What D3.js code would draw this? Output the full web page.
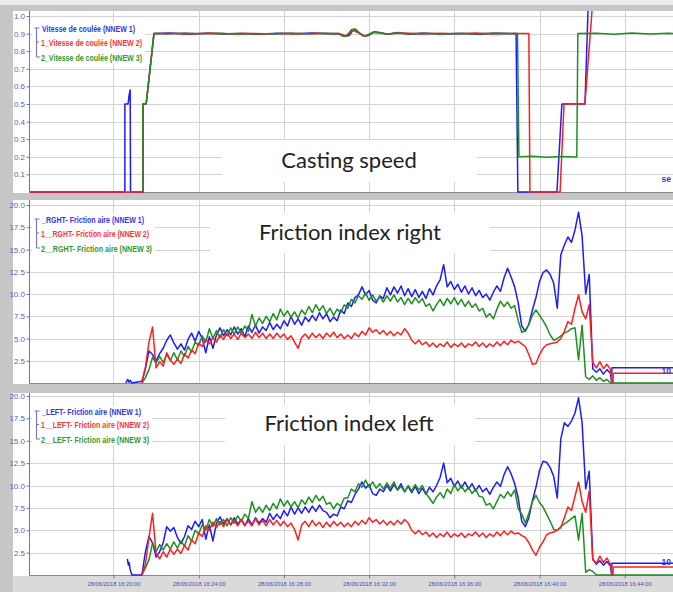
<!DOCTYPE html>
<html>
<head>
<meta charset="utf-8">
<script src="https://cdn.jsdelivr.net/npm/d3@7"></script>
<style>
  html, body { margin: 0; padding: 0; background: #c6c6c6; }
  svg { display: block; }
</style>
</head>
<body>
<svg id="chart" width="673" height="592"></svg>
<script>
// ---------------- data ----------------
const dayPrefix = "2018-06-28 ";

const speedNames = ["Vitesse de coulée (NNEW 1)", "1_Vitesse de coulée (NNEW 2)", "2_Vitesse de coulée (NNEW 3)"];
const rightNames = ["_RGHT- Friction aire (NNEW 1)", "1__RGHT- Friction aire (NNEW 2)", "2__RGHT- Friction aire (NNEW 3)"];
const leftNames  = ["_LEFT- Friction aire (NNEW 1)", "1__LEFT- Friction aire (NNEW 2)", "2__LEFT- Friction aire (NNEW 3)"];
const panelTitles = ["Casting speed", "Friction index right", "Friction index left"];

const speedTicks = [0.1, 0.2, 0.3, 0.4, 0.5, 0.6, 0.7, 0.8, 0.9, 1.0];
const frictionTicks = [2.5, 5.0, 7.5, 10.0, 12.5, 15.0, 17.5, 20.0];
const timeDomain = ["16:16:02", "16:46:16"];
const tickEveryMinutes = 4;

// casting speed: [time, value]
const speedBlue = [
  ["16:16:02",0],["16:20:32",0],["16:20:32",0.5],["16:20:41",0.5],["16:20:44",0.55],["16:20:47",0.58],["16:20:48",0],
  ["16:21:23",0],["16:21:23",0.5],["16:21:32",0.5],["16:21:54",0.9],
  ["16:22:40",0.903],["16:23:30",0.897],["16:24:20",0.902],["16:25:10",0.898],["16:26:00",0.901],["16:26:50",0.896],
  ["16:27:40",0.902],["16:28:30",0.899],["16:29:20",0.903],["16:30:10",0.899],["16:30:35",0.9],
  ["16:30:45",0.893],["16:30:55",0.885],["16:31:05",0.891],["16:31:14",0.918],["16:31:22",0.924],["16:31:32",0.905],
  ["16:31:45",0.886],["16:31:58",0.889],["16:32:15",0.91],["16:32:35",0.903],["16:32:55",0.896],["16:33:20",0.906],["16:33:50",0.897],
  ["16:34:40",0.902],["16:35:30",0.898],["16:36:20",0.901],["16:37:10",0.897],["16:38:00",0.902],["16:38:54",0.9],["16:38:59",0],
  ["16:40:49",0],["16:41:03",0.5],["16:42:08",0.5],["16:42:21",1.3]
];
const speedRed = [
  ["16:16:02",0],["16:21:23",0],["16:21:23",0.5],["16:21:32",0.5],["16:21:54",0.9],
  ["16:22:50",0.901],["16:23:40",0.898],["16:24:30",0.903],["16:25:20",0.899],["16:26:10",0.902],["16:27:00",0.897],
  ["16:27:50",0.901],["16:28:40",0.898],["16:29:30",0.902],["16:30:20",0.899],["16:30:40",0.896],["16:30:55",0.887],
  ["16:31:12",0.92],["16:31:30",0.904],["16:31:48",0.887],["16:32:12",0.908],["16:32:50",0.898],["16:33:40",0.903],
  ["16:34:30",0.898],["16:35:20",0.902],["16:36:10",0.899],["16:37:00",0.903],["16:37:50",0.898],["16:38:40",0.901],
  ["16:39:30",0.9],["16:39:33",0],
  ["16:40:58",0],["16:41:09",0.5],["16:42:08",0.5],["16:42:38",1.3]
];
const speedGreen = [
  ["16:21:23",0],["16:21:23",0.5],["16:21:32",0.5],["16:21:54",0.9],
  ["16:22:30",0.898],["16:23:20",0.903],["16:24:10",0.899],["16:25:00",0.902],["16:25:50",0.897],["16:26:40",0.901],
  ["16:27:30",0.898],["16:28:20",0.903],["16:29:10",0.898],["16:30:00",0.902],["16:30:35",0.9],
  ["16:30:42",0.888],["16:30:52",0.884],["16:31:02",0.895],["16:31:10",0.922],["16:31:18",0.927],["16:31:28",0.91],
  ["16:31:40",0.889],["16:31:52",0.886],["16:32:10",0.907],["16:32:30",0.906],["16:32:50",0.897],["16:33:15",0.905],["16:33:45",0.898],
  ["16:34:30",0.903],["16:35:20",0.897],["16:36:10",0.902],["16:37:00",0.898],["16:37:50",0.903],["16:38:40",0.899],
  ["16:38:58",0.9],["16:39:02",0.2],
  ["16:39:40",0.203],["16:40:20",0.197],["16:41:00",0.202],["16:41:45",0.199],["16:41:48",0.9],
  ["16:42:40",0.902],["16:43:30",0.897],["16:44:20",0.903],["16:45:10",0.898],["16:46:00",0.902],["16:47:00",0.899]
];

// friction records: one sample every 10 s starting at 16:21:20
const frictionStart = "16:21:20";
const frictionStepSeconds = 10;

const rightBlue = [
  0.2,1.6,3.6,3.2,2.5,3.3,3.9,4.8,5.4,4.5,
  3.8,4.4,3.7,4.9,5.6,4.7,5.8,5.0,3.4,5.2,
  3.9,5.4,6.2,5.3,6.0,5.4,6.3,5.5,6.1,5.2,
  6.4,5.7,6.5,5.6,6.3,5.9,6.8,6.0,6.6,6.1,
  7.0,6.4,7.5,6.6,7.2,6.5,7.4,6.9,7.6,7.0,
  7.9,7.2,7.8,6.9,7.4,7.0,8.2,7.8,9.0,8.6,
  9.6,9.9,10.8,9.9,10.4,9.3,9.0,9.8,9.5,10.7,
  9.9,10.8,10.1,10.9,9.8,10.6,9.7,10.5,9.6,10.3,
  9.5,10.6,9.9,10.9,11.6,13.3,10.8,11.4,10.5,11.1,
  10.2,10.9,10.0,10.7,9.8,10.4,9.6,10.0,9.3,10.2,
  10.9,10.3,11.8,12.9,11.9,10.8,9.0,6.4,5.8,6.6,
  8.2,9.6,11.4,12.4,12.7,12.2,11.2,8.4,14.4,15.5,
  16.4,15.8,17.2,19.2,16.5,10.0,12.2,1.6,1.2,1.6,
  1.0,1.5,1.1
];
const rightRed = [
  0.0,1.8,4.6,6.3,1.7,2.4,1.9,3.4,2.6,2.1,
  2.7,2.2,3.3,2.8,3.7,3.3,4.5,4.1,4.9,4.4,
  5.1,4.6,5.4,4.9,5.6,5.0,5.5,4.9,5.6,5.1,
  5.5,5.0,5.7,5.1,5.6,5.0,5.5,5.0,5.6,5.1,
  5.5,4.9,5.3,4.6,3.9,5.1,5.5,5.0,5.6,5.1,
  5.5,5.0,5.6,5.2,5.7,5.1,5.5,5.0,5.4,5.0,
  5.6,5.2,5.8,5.4,6.2,5.7,6.0,5.5,5.9,5.4,
  5.8,5.3,5.7,5.4,6.1,5.6,4.8,4.4,4.8,4.3,
  4.6,4.1,4.5,4.0,4.4,4.1,4.6,4.0,4.4,4.1,
  4.5,4.0,4.4,4.2,4.6,4.1,4.5,4.0,4.4,4.1,
  4.6,4.2,4.7,4.3,4.8,4.5,4.7,4.4,4.1,3.2,
  2.1,2.2,3.2,3.9,4.3,4.4,4.5,4.6,5.0,5.8,
  6.9,6.6,8.4,9.9,8.0,7.2,8.8,2.3,1.7,2.4,
  1.6,2.1,1.5
];
const rightGreen = [
  0.0,0.6,1.5,2.9,2.2,3.0,2.3,3.2,2.5,3.4,
  2.6,3.6,3.0,4.1,3.5,4.6,4.2,5.3,4.6,6.1,
  5.0,5.9,5.1,6.0,5.3,6.2,5.5,6.3,5.6,6.4,
  5.8,7.7,6.4,7.3,6.7,7.5,6.9,7.8,7.1,8.3,
  7.5,8.1,7.4,8.0,7.3,8.2,7.7,8.6,7.9,8.8,
  8.1,8.7,7.8,8.4,7.6,8.3,7.9,8.8,8.4,9.4,
  9.0,9.8,9.4,10.1,9.3,9.9,9.2,9.7,9.1,9.8,
  9.2,9.9,9.1,9.6,8.8,9.5,8.9,9.6,9.0,9.5,
  8.6,8.9,8.1,8.8,9.4,8.7,9.5,8.9,9.6,8.8,
  9.4,8.6,9.2,8.5,8.9,8.1,8.4,7.4,7.8,7.2,
  8.3,9.2,8.6,9.1,8.4,8.7,7.0,5.7,5.9,6.6,
  7.6,8.2,7.6,7.0,6.3,5.4,4.8,5.0,5.3,5.6,
  5.8,6.1,6.2,2.6,6.5,0.7,0.4,0.8,0.3,0.6,
  0.2,0.4,0.0
];
const leftBlue = [
  0.0,2.6,4.3,3.6,2.0,2.6,3.6,5.4,4.9,5.3,
  4.2,3.5,4.3,5.5,5.1,6.0,5.4,6.2,4.0,5.6,
  3.8,5.8,6.5,5.7,6.3,5.6,6.4,5.7,6.2,5.5,
  6.3,5.6,6.4,5.8,6.3,5.9,6.9,6.2,6.8,6.3,
  7.2,6.6,7.6,6.8,7.5,6.9,7.6,7.0,7.7,7.1,
  7.8,7.2,7.0,6.4,6.8,6.6,7.6,7.4,8.3,8.1,
  9.0,9.6,10.4,9.7,10.1,9.1,8.9,9.6,9.3,10.0,
  9.4,10.1,9.5,10.2,9.3,9.9,9.2,9.9,9.1,9.7,
  9.0,9.8,9.3,10.0,10.9,12.5,10.3,10.8,9.9,10.5,
  9.7,10.4,9.6,10.2,9.4,10.0,9.3,9.7,9.0,9.8,
  10.4,9.9,11.2,12.1,11.3,10.2,8.6,6.0,5.4,6.4,
  8.3,9.8,11.7,12.7,12.6,12.0,11.0,8.6,15.2,17.0,
  16.6,17.2,18.1,19.8,17.0,9.6,11.6,1.8,1.2,1.6,
  1.1,1.5,1.0
];
const leftRed = [
  0.0,1.2,4.2,6.9,2.4,1.8,2.6,2.0,2.9,2.3,
  2.9,2.4,3.3,2.8,3.9,3.5,4.7,4.3,5.5,5.0,
  5.9,5.3,6.0,5.4,6.2,5.6,6.1,5.5,6.2,5.6,
  6.0,5.5,6.3,5.6,6.1,5.5,6.2,5.6,6.1,5.5,
  6.0,5.4,5.8,5.1,3.9,5.6,6.0,5.4,6.1,5.5,
  5.9,5.3,5.9,5.4,6.0,5.5,5.9,5.4,5.8,5.4,
  6.0,5.6,6.1,5.7,6.4,5.9,6.2,5.7,6.1,5.6,
  6.0,5.6,6.1,5.7,6.2,5.8,5.0,4.6,5.0,4.5,
  4.8,4.3,4.7,4.2,4.6,4.3,4.8,4.2,4.6,4.3,
  4.7,4.2,4.6,4.4,4.8,4.3,4.7,4.2,4.6,4.3,
  4.8,4.4,4.9,4.5,4.9,4.6,4.7,4.4,4.2,3.6,
  2.8,2.2,3.1,3.7,4.5,4.7,4.8,5.0,5.3,6.4,
  7.6,7.2,8.8,10.4,8.2,7.0,9.4,1.7,1.3,2.1,
  1.4,1.9,1.2
];
const leftGreen = [
  0.0,0.8,1.7,3.6,2.6,3.4,2.8,3.5,2.9,3.7,
  3.0,3.8,3.2,4.4,3.8,5.0,4.6,5.6,5.0,6.2,
  5.4,6.3,5.6,6.2,5.5,6.4,5.8,6.6,6.0,6.8,
  6.3,8.2,7.0,7.6,7.0,7.8,7.2,8.0,7.4,8.5,
  7.7,8.3,7.6,8.2,7.5,8.4,7.9,8.7,8.1,8.9,
  8.3,8.8,7.9,8.1,7.4,8.0,7.7,8.6,8.6,9.6,
  9.3,10.2,9.8,10.6,9.8,10.4,9.7,10.2,9.6,10.3,
  9.7,10.4,9.5,9.9,9.3,10.0,9.4,10.1,9.5,10.0,
  9.1,8.6,8.0,8.7,9.2,8.6,9.6,9.1,10.1,9.4,
  10.0,9.3,9.8,9.1,9.6,8.8,8.7,7.8,8.0,7.4,
  8.2,9.0,8.6,9.3,8.8,9.5,7.4,6.8,5.8,6.9,
  8.2,8.9,8.1,7.6,6.8,6.0,5.1,5.0,5.4,5.7,
  6.0,6.3,6.6,3.9,6.9,0.3,0.6,0.4,0.0,0.0,
  0.0,0.0,0.0
];

// short records before the main start and after its end: [time, value]
const rightBlueHead = [["16:20:35",0],["16:20:40",0.4],["16:20:44",0.1],["16:20:47",0.3],["16:20:52",0]];
const leftBlueHead  = [["16:20:39",1.8],["16:20:42",1.1],["16:20:44",1.4],["16:20:47",0.6],["16:20:52",0]];
const rightBlueTail  = [["16:43:23",0],["16:43:24",1.7],["16:47:00",1.7]];
const rightRedTail   = [["16:43:24",0],["16:43:27",0],["16:43:28",1.1],["16:47:00",1.1]];
const rightGreenTail = [["16:47:00",0]];
const leftBlueTail   = [["16:43:23",0],["16:43:24",1.3],["16:47:00",1.3]];
const leftRedTail    = [["16:43:24",0],["16:43:27",0],["16:43:28",0.9],["16:47:00",0.9]];
const leftGreenTail  = [["16:47:00",0]];

const edgeLabels = ["se", "10", "10"];

// ---------------- drawing ----------------
const parseTime = d3.timeParse("%Y-%m-%d %H:%M:%S");
const T = s => parseTime(dayPrefix + s);

const pairs = arr => arr.map(([t, v]) => ({ t: T(t), v }));
const sampled = arr => {
  const t0 = T(frictionStart).getTime();
  return arr.map((v, i) => ({ t: new Date(t0 + i * frictionStepSeconds * 1000), v }));
};

const COLORS = { blue: "#1c1cff", red: "#ff1f1f", green: "#1f8f1f" };
const LEGEND_COLORS = ["#3434ee", "#ff3535", "#2f9a2f"];

const svg = d3.select("#chart");
const W = 673, H = 592;

const x = d3.scaleTime().domain(timeDomain.map(T)).range([29, 673]);
const xTicks = x.ticks(d3.timeMinute.every(tickEveryMinutes));

// background frame
svg.append("rect").attr("width", W).attr("height", H).attr("fill", "#c6c6c6");
svg.append("rect").attr("x", 0).attr("y", 0).attr("width", W).attr("height", 5).attr("fill", "#ececec");

const panels = [
  {
    names: speedNames, title: panelTitles[0], ticks: speedTicks, max: 1,
    white: [13, 11, 660, 182], yr: [192, 16],
    series: [
      { c: COLORS.blue, d: pairs(speedBlue) },
      { c: COLORS.red, d: pairs(speedRed) },
      { c: COLORS.green, d: pairs(speedGreen) }
    ],
    legendBase: [31.5, 45.5, 60.5], legendW: [93, 101, 101],
    titleX: 349, titleY: 168, titleBox: [222, 140, 255, 42],
    edge: { text: edgeLabels[0], y: 182 }
  },
  {
    names: rightNames, title: panelTitles[1], ticks: frictionTicks, max: 20,
    white: [13, 200, 660, 184], yr: [383, 205],
    series: [
      { c: COLORS.blue, d: pairs(rightBlueHead).concat(sampled(rightBlue), pairs(rightBlueTail)) },
      { c: COLORS.green, d: sampled(rightGreen).concat(pairs(rightGreenTail)) },
      { c: COLORS.red, d: sampled(rightRed).concat(pairs(rightRedTail)) }
    ],
    legendBase: [222.5, 236.5, 251.5], legendW: [102, 108, 111],
    titleX: 350, titleY: 240, titleBox: [210, 213, 280, 40],
    edge: { text: edgeLabels[1], y: 374 }
  },
  {
    names: leftNames, title: panelTitles[2], ticks: frictionTicks, max: 20,
    white: [13, 393, 660, 183], yr: [575, 396],
    series: [
      { c: COLORS.blue, d: pairs(leftBlueHead).concat(sampled(leftBlue), pairs(leftBlueTail)) },
      { c: COLORS.green, d: sampled(leftGreen).concat(pairs(leftGreenTail)) },
      { c: COLORS.red, d: sampled(leftRed).concat(pairs(leftRedTail)) }
    ],
    legendBase: [414.5, 428, 442.5], legendW: [99, 108, 108],
    titleX: 349, titleY: 431, titleBox: [225, 405, 250, 40],
    edge: { text: edgeLabels[2], y: 565 }
  }
];

// label strip under the bottom axis
svg.append("rect").attr("x", 13).attr("y", 576).attr("width", 660).attr("height", 16).attr("fill", "#dadada");

panels.forEach((p, pi) => {
  const [wx, wy, ww, wh] = p.white;
  const g = svg.append("g");
  g.append("rect").attr("x", wx).attr("y", wy).attr("width", ww).attr("height", wh).attr("fill", "#ffffff");

  const y = d3.scaleLinear().domain([0, p.max]).range(p.yr);
  const plotTop = wy, plotBottom = p.yr[0];

  // grid
  const grid = g.append("g").attr("stroke", "#d3d3d3").attr("stroke-width", 1).attr("shape-rendering", "crispEdges");
  grid.selectAll("line.h").data(p.ticks).join("line")
    .attr("x1", 29).attr("x2", 673)
    .attr("y1", d => Math.round(y(d)) + 0.5).attr("y2", d => Math.round(y(d)) + 0.5);
  grid.selectAll("line.v").data(xTicks).join("line")
    .attr("x1", d => Math.round(x(d)) + 0.5).attr("x2", d => Math.round(x(d)) + 0.5)
    .attr("y1", plotTop).attr("y2", plotBottom);

  // title background box
  const [bx, by, bw, bh] = p.titleBox;
  g.append("rect").attr("x", bx).attr("y", by).attr("width", bw).attr("height", bh).attr("fill", "#ffffff");

  // y axis
  const yAxis = d3.axisLeft(y).tickValues(p.ticks).tickFormat(d3.format(".1f")).tickSize(3).tickPadding(1.5);
  const ya = g.append("g").attr("transform", "translate(29.5,0)").call(yAxis);
  ya.select(".domain").remove();
  ya.selectAll(".tick line").attr("stroke", "#7a7a7a");
  ya.selectAll("text").attr("fill", "#5b5bd2").attr("font-family", "Liberation Sans, Arial, sans-serif").attr("font-size", 8);
  g.append("line").attr("x1", 29.5).attr("x2", 29.5).attr("y1", plotTop).attr("y2", plotBottom + 1)
    .attr("stroke", "#7a7a7a").attr("stroke-width", 1);
  g.append("line").attr("x1", 29).attr("x2", 673).attr("y1", plotBottom + 0.5).attr("y2", plotBottom + 0.5)
    .attr("stroke", "#8a8a8a").attr("stroke-width", 1);

  // clipped plot lines
  const clipId = "clip" + pi;
  svg.append("clipPath").attr("id", clipId).append("rect")
    .attr("x", 30).attr("y", plotTop).attr("width", 643).attr("height", plotBottom - plotTop + 1);
  const line = d3.line().x(d => x(d.t)).y(d => y(d.v));
  const lines = g.append("g").attr("clip-path", `url(#${clipId})`);
  p.series.forEach(s => {
    lines.append("path").datum(s.d).attr("d", line)
      .attr("fill", "none").attr("stroke", s.c).attr("stroke-width", 1.5)
      .attr("stroke-linejoin", "round");
  });

  // legend
  const lb = p.legendBase;
  const maxW = d3.max(p.legendW);
  g.append("rect").attr("x", 32).attr("y", lb[0] - 9).attr("width", maxW + 12).attr("height", lb[2] - lb[0] + 12)
    .attr("fill", "#ffffff");
  const br = g.append("g").attr("stroke", "#6e6ee0").attr("stroke-width", 1).attr("fill", "none");
  br.append("path").attr("d",
    `M34.5,${lb[0] - 3.5}H39.5M36.5,${lb[0] - 3.5}V${lb[2] - 3.5}H40M36.5,${lb[1] - 3.5}H39`);
  p.names.forEach((name, k) => {
    g.append("text")
      .attr("x", k === 0 ? 42 : 41).attr("y", lb[k])
      .attr("font-family", "Liberation Sans, Arial, sans-serif").attr("font-weight", "bold")
      .attr("font-size", 9.5).attr("fill", LEGEND_COLORS[k])
      .attr("textLength", p.legendW[k]).attr("lengthAdjust", "spacingAndGlyphs")
      .text(name);
  });

  // panel title
  g.append("text").attr("x", p.titleX).attr("y", p.titleY).attr("text-anchor", "middle")
    .attr("font-family", "Lato, 'Open Sans', sans-serif").attr("font-size", 22).attr("fill", "#222222")
    .text(p.title);

  // short label at the right border
  g.append("text").attr("x", 671).attr("y", p.edge.y).attr("text-anchor", "end")
    .attr("font-family", "Liberation Sans, Arial, sans-serif").attr("font-weight", "bold")
    .attr("font-size", 8.5).attr("fill", "#3434ee").text(p.edge.text);
});

// bottom time axis
const fmt = d3.timeFormat("%d/%m/%Y %H:%M:%S");
const xAxis = d3.axisBottom(x).tickValues(xTicks).tickFormat(fmt).tickSize(3).tickPadding(3);
const xa = svg.append("g").attr("transform", "translate(0,575.5)").call(xAxis);
xa.select(".domain").remove();
xa.selectAll(".tick line").attr("stroke", "#7a7a7a");
xa.selectAll("text").attr("fill", "#4a4ab8")
  .attr("font-family", "Liberation Sans, Arial, sans-serif").attr("font-size", 6)
  .attr("textLength", 53).attr("lengthAdjust", "spacingAndGlyphs");
</script>
</body>
</html>
